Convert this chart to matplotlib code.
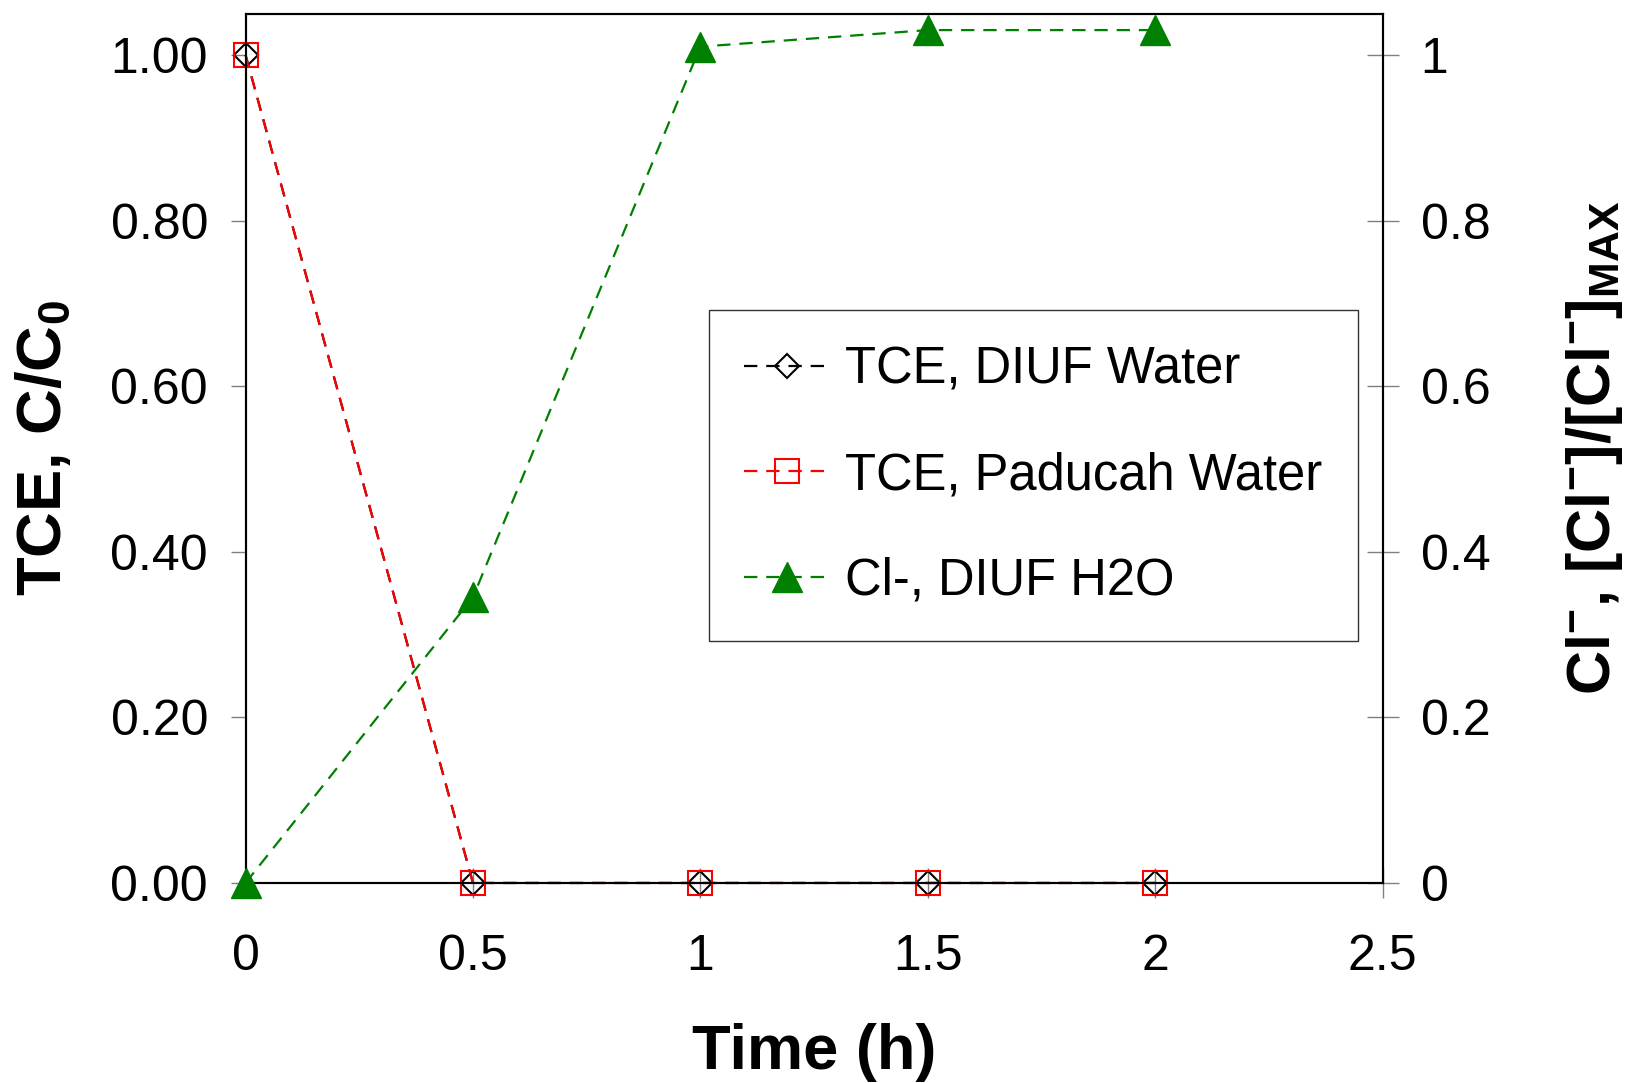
import matplotlib
matplotlib.use("Agg")
import matplotlib.pyplot as plt
from matplotlib.ticker import FormatStrFormatter, FuncFormatter

plt.rcParams['font.family'] = ['Liberation Sans', 'DejaVu Sans']
plt.rcParams['mathtext.fontset'] = 'custom'
plt.rcParams['mathtext.rm'] = 'Liberation Sans:bold'
plt.rcParams['mathtext.bf'] = 'Liberation Sans:bold'
plt.rcParams['mathtext.default'] = 'rm'

# data
time_h = [0, 0.5, 1, 1.5, 2]
tce_diuf = [1.0, 0, 0, 0, 0]
tce_paducah = [1.0, 0, 0, 0, 0]
cl_diuf = [0, 0.345, 1.01, 1.03, 1.03]

x_ticks = [0, 0.5, 1, 1.5, 2, 2.5]
y_ticks = [0, 0.2, 0.4, 0.6, 0.8, 1.0]

fig = plt.figure(figsize=(16.25, 10.83), dpi=100)
ax = fig.add_axes([0.1511, 0.1847, 0.6997, 0.8028])
ax2 = ax.twinx()

dash = (0, (6, 4))
l1, = ax.plot(time_h, tce_diuf, color='black', linestyle=dash, linewidth=1.6,
              marker='D', markersize=12, markerfacecolor='none',
              markeredgecolor='black', markeredgewidth=1.5, clip_on=False,
              zorder=2, label='TCE, DIUF Water')
l2, = ax.plot(time_h, tce_paducah, color='red', linestyle=dash, linewidth=1.6,
              marker='s', markersize=17, markerfacecolor='none',
              markeredgecolor='red', markeredgewidth=1.5, clip_on=False,
              zorder=3, label='TCE, Paducah Water')
l3, = ax2.plot(time_h, cl_diuf, color='green', linestyle=dash, linewidth=1.6,
               marker='^', markersize=21, markerfacecolor='green',
               markeredgecolor='green', clip_on=False, zorder=3,
               label='Cl-, DIUF H2O')

ax.set_xlim(0, 2.5)
ax.set_ylim(0, 1.05)
ax2.set_ylim(0, 1.05)
ax.set_xticks(x_ticks)
ax.set_yticks(y_ticks)
ax2.set_yticks(y_ticks)
ax.yaxis.set_major_formatter(FormatStrFormatter('%.2f'))
ax.xaxis.set_major_formatter(FuncFormatter(lambda v, p: f'{v:g}'))
ax2.yaxis.set_major_formatter(FuncFormatter(lambda v, p: f'{v:g}'))

for a in (ax, ax2):
    for s in a.spines.values():
        s.set_linewidth(1.5)
        s.set_color('black')

ax.tick_params(axis='y', direction='out', length=11, width=1, color='#808080',
               labelsize=36, pad=16)
ax.tick_params(axis='x', direction='inout', length=22, width=1, color='#808080',
               labelsize=36, pad=26)
ax2.tick_params(axis='y', direction='inout', length=23, width=1, color='#808080',
                labelsize=36, pad=16)

ax.set_xlabel('Time (h)', fontsize=45.5, fontweight='bold', va='center')
ax.xaxis.set_label_coords(0.5, -0.195)
ax.set_ylabel('TCE, C/C$_0$', fontsize=45.5, fontweight='bold', va='center')
ax.yaxis.set_label_coords(-0.177, 0.5)
ax2.set_ylabel('Cl$^{-}$, [Cl$^{-}$]/[Cl$^{-}$]$_{MAX}$', fontsize=44,
               fontweight='bold', va='center', rotation=90)
ax2.yaxis.set_label_coords(1.186, 0.5)

leg = ax2.legend(handles=[l1, l2, l3], loc='upper left',
                 bbox_to_anchor=(0.436, 0.7138), bbox_transform=fig.transFigure,
                 fontsize=36.5, frameon=True, fancybox=False, shadow=False,
                 borderaxespad=0, borderpad=0.7, labelspacing=1.12,
                 handlelength=1.7, handletextpad=0.3)
leg.get_frame().set_edgecolor('black')
leg.get_frame().set_linewidth(1)

fig.savefig('out.png', dpi=100)
